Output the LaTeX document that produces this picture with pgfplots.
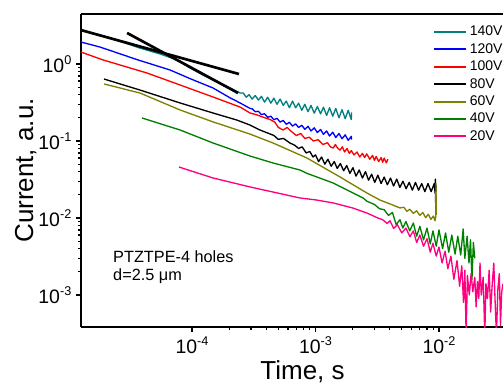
\documentclass[border=0pt]{standalone}
\usepackage{pgfplots}
\pgfplotsset{compat=1.18}
\usepackage{fontspec}
\setmainfont{Liberation Sans}
\definecolor{cteal}{RGB}{0,128,128}
\definecolor{cblue}{RGB}{0,0,255}
\definecolor{colive}{RGB}{128,128,0}
\definecolor{cgreen}{RGB}{0,128,0}
\definecolor{cpink}{RGB}{255,0,128}
\newcommand{\sups}[1]{\raisebox{0.42em}{\fontsize{9.5}{10}\selectfont #1}}
\begin{document}
\begin{tikzpicture}[x=0.75pt,y=0.75pt]
\path[use as bounding box] (0,0) rectangle (503,386);
\begin{axis}[
  at={(60.75pt,44.25pt)}, anchor=south west,
  scale only axis, width=316.5pt, height=234.75pt,
  xmode=log, ymode=log,
  xmin=1.262e-5, xmax=3.30e-2, ymin=3.84e-4, ymax=4.46,
  axis x line*=bottom, axis y line*=left,
  axis line style={line width=1.5pt,-},
  tick align=outside,
  major tick length=3.75pt, minor tick length=2.25pt,
  every tick/.style={black, line width=0.9pt},
  xtick={1e-4,1e-3,1e-2}, ytick={1e-3,1e-2,1e-1,1},
  xticklabels={10\sups{-4},10\sups{-3},10\sups{-2}},
  yticklabels={10\sups{-3},10\sups{-2},10\sups{-1},10\sups{0}},
  ticklabel style={font=\fontsize{14.6}{15}\selectfont},
  xlabel={Time, s}, ylabel={Current, a.u.},
  label style={font=\fontsize{19.5}{20}\selectfont},
  xlabel style={at={(axis description cs:0.525,-0.1693)}, anchor=base},
  ylabel style={at={(axis description cs:-0.1137,0.5)}, anchor=base},
  legend style={draw=none, fill=none, at={(axis description cs:0.834,0.970)}, anchor=north west,
    font=\fontsize{10.5}{11}\selectfont, inner sep=0pt, row sep=0.4pt, column sep=1pt,
    nodes={inner ysep=1.9pt, inner xsep=1pt}},
  legend cell align=left,
  legend image code/.code={\draw[#1, line width=1.5pt] (0pt,0pt) -- (24pt,0pt);},
  every axis plot/.append style={line width=1pt, line join=round},
  clip=true,
]
\addplot[cteal] table {
1.26e-5 2.76
2.17e-5 2.18
3.79e-5 1.61
5.51e-5 1.35
7.57e-5 1.13
9.64e-5 0.887
1.27e-4 0.698
1.59e-4 0.584
2.03e-4 0.49
2.45e-4 0.42
2.6e-4 0.42
2.75e-4 0.37
2.9e-4 0.40
3.07e-4 0.35
3.25e-4 0.39
3.45e-4 0.34
3.65e-4 0.38
3.87e-4 0.32
4.1e-4 0.37
4.35e-4 0.31
4.6e-4 0.36
4.88e-4 0.30
5.17e-4 0.35
5.48e-4 0.29
5.8e-4 0.33
6.15e-4 0.27
6.52e-4 0.33
6.9e-4 0.27
7.3e-4 0.31
7.75e-4 0.25
8.2e-4 0.30
8.7e-4 0.24
9.2e-4 0.29
9.77e-4 0.23
1.035e-3 0.28
1.1e-3 0.225
1.16e-3 0.275
1.23e-3 0.215
1.3e-3 0.27
1.38e-3 0.21
1.46e-3 0.265
1.55e-3 0.20
1.64e-3 0.255
1.74e-3 0.195
1.84e-3 0.25
1.95e-3 0.19
1.96e-3 0.235
};
\addlegendentry{140V}
\addplot[cblue] table {
1.26e-5 1.93
1.80e-5 1.66
3.65e-5 1.13
6.64e-5 0.836
9.64e-5 0.646
1.48e-4 0.488
2.0e-4 0.369
2.45e-4 0.312
2.95e-4 0.265
3.07e-4 0.262
3.25e-4 0.240
3.45e-4 0.243
3.65e-4 0.220
3.87e-4 0.226
4.1e-4 0.203
4.35e-4 0.210
4.6e-4 0.189
4.88e-4 0.197
5.17e-4 0.176
5.48e-4 0.185
5.8e-4 0.165
6.15e-4 0.175
6.52e-4 0.156
6.9e-4 0.167
7.3e-4 0.150
7.75e-4 0.160
8.2e-4 0.142
8.7e-4 0.155
9.2e-4 0.135
9.77e-4 0.148
1.035e-3 0.129
1.1e-3 0.141
1.16e-3 0.122
1.23e-3 0.135
1.3e-3 0.116
1.38e-3 0.130
1.46e-3 0.111
1.55e-3 0.125
1.64e-3 0.107
1.74e-3 0.120
1.84e-3 0.102
1.95e-3 0.115
1.96e-3 0.104
};
\addlegendentry{120V}
\addplot[red] table {
1.26e-5 1.43
1.90e-5 1.13
4.32e-5 0.764
8.0e-5 0.534
1.48e-4 0.373
2.45e-4 0.276
2.95e-4 0.231
3.36e-4 0.218
3.9e-4 0.20
4.3e-4 0.19
4.7e-4 0.175
5.0e-4 0.15
5.46e-4 0.139
5.9e-4 0.150
6.3e-4 0.135
7.0e-4 0.118
7.6e-4 0.125
8.2e-4 0.108
8.9e-4 0.112
9.6e-4 0.100
1.05e-3 0.104
1.15e-3 0.090
1.25e-3 0.095
1.32e-3 0.084
1.39e-3 0.081
1.45e-3 0.090
1.5e-3 0.082
1.58e-3 0.076
1.65e-3 0.084
1.72e-3 0.072
1.8e-3 0.080
1.88e-3 0.069
1.95e-3 0.075
2.05e-3 0.066
2.17e-3 0.072
2.28e-3 0.062
2.4e-3 0.069
2.5e-3 0.061
2.6e-3 0.068
2.75e-3 0.058
2.9e-3 0.065
3.0e-3 0.056
3.1e-3 0.063
3.25e-3 0.054
3.4e-3 0.061
3.5e-3 0.053
3.6e-3 0.060
3.75e-3 0.052
3.86e-3 0.058
};
\addlegendentry{100V}
\addplot[black] table {
1.94e-5 0.638
3.79e-5 0.459
8.0e-5 0.312
1.48e-4 0.231
2.31e-4 0.187
2.95e-4 0.161
3.55e-4 0.139
4.2e-4 0.125
4.6e-4 0.118
5.0e-4 0.105
5.5e-4 0.108
6.22e-4 0.094
6.8e-4 0.088
7.3e-4 0.080
7.8e-4 0.084
8.4e-4 0.070
9.0e-4 0.073
9.55e-4 0.062
1.00e-3 0.066
1.06e-3 0.054
1.12e-3 0.062
1.19e-3 0.050
1.26e-3 0.058
1.34e-3 0.047
1.42e-3 0.054
1.50e-3 0.044
1.59e-3 0.051
1.69e-3 0.041
1.79e-3 0.048
1.90e-3 0.038
2.01e-3 0.045
2.13e-3 0.035
2.26e-3 0.042
2.40e-3 0.033
2.54e-3 0.040
2.69e-3 0.031
2.85e-3 0.037
3.02e-3 0.029
3.20e-3 0.036
3.40e-3 0.028
3.60e-3 0.034
3.82e-3 0.027
4.05e-3 0.033
4.29e-3 0.026
4.55e-3 0.032
4.82e-3 0.025
5.11e-3 0.030
5.42e-3 0.024
5.74e-3 0.029
6.09e-3 0.023
6.45e-3 0.029
6.84e-3 0.023
7.25e-3 0.028
7.69e-3 0.022
8.15e-3 0.028
8.64e-3 0.022
9.16e-3 0.028
9.3e-3 0.021
9.35e-3 0.032
9.4e-3 0.016
9.45e-3 0.027
};
\addlegendentry{80V}
\addplot[colive] table {
1.94e-5 0.550
3.79e-5 0.420
8.0e-5 0.253
1.48e-4 0.177
2.95e-4 0.123
4.53e-4 0.0942
8.53e-4 0.0601
1.58e-3 0.0341
2.61e-3 0.0211
3.33e-3 0.0171
4.2e-3 0.0148
4.83e-3 0.0135
5.2e-3 0.0138
5.5e-3 0.0122
5.8e-3 0.0130
6.2e-3 0.0115
6.6e-3 0.0124
7.0e-3 0.0108
7.4e-3 0.0118
7.8e-3 0.0101
8.2e-3 0.0112
8.6e-3 0.0096
9.0e-3 0.0106
9.29e-3 0.0092
9.4e-3 0.0102
9.46e-3 0.028
9.5e-3 0.011
};
\addlegendentry{60V}
\addplot[cgreen] table {
3.94e-5 0.199
8.0e-5 0.139
1.48e-4 0.0942
2.95e-4 0.0638
4.53e-4 0.0518
7.49e-4 0.042
8.53e-4 0.038
1.39e-3 0.0285
2.43e-3 0.0182
2.61e-3 0.0165
3.0e-3 0.0150
3.3e-3 0.0132
3.6e-3 0.0128
3.9e-3 0.0108
4.2e-3 0.0118
4.5e-3 0.0082
4.83e-3 0.0095
5.1e-3 0.0074
5.4e-3 0.0090
5.8e-3 0.0068
6.2e-3 0.0086
6.6e-3 0.0058
7.0e-3 0.0078
7.5e-3 0.0052
8.0e-3 0.0074
8.5e-3 0.0046
8.94e-3 0.0068
9.5e-3 0.0043
1.0e-2 0.0070
1.07e-2 0.0040
1.13e-2 0.0064
1.2e-2 0.0036
1.27e-2 0.0060
1.35e-2 0.0034
1.42e-2 0.0058
1.5e-2 0.0033
1.57e-2 0.0072
1.62e-2 0.0030
1.69e-2 0.0058
1.75e-2 0.0026
1.8e-2 0.0052
1.85e-2 0.0016
1.9e-2 0.0048
1.95e-2 0.0030
};
\addlegendentry{40V}
\addplot[cpink] table {
7.85e-5 0.0459
1.48e-4 0.0331
2.95e-4 0.0253
7.49e-4 0.0182
1.0e-3 0.0172
1.39e-3 0.0157
2.0e-3 0.0135
2.61e-3 0.0116
3.2e-3 0.0100
3.5e-3 0.0095
3.8e-3 0.0085
4.01e-3 0.0092
4.3e-3 0.0073
4.6e-3 0.0082
5.0e-3 0.0064
5.4e-3 0.0074
5.82e-3 0.0057
6.2e-3 0.0068
6.6e-3 0.0048
7.0e-3 0.0060
7.5e-3 0.0043
8.0e-3 0.0054
8.5e-3 0.0036
8.94e-3 0.0047
9.5e-3 0.0032
1.0e-2 0.0042
1.06e-2 0.0026
1.12e-2 0.0037
1.18e-2 0.0022
1.25e-2 0.0032
1.32e-2 0.0016
1.4e-2 0.0028
1.47e-2 0.0013
1.53e-2 0.0024
1.58e-2 0.0008
1.62e-2 0.0021
1.66e-2 0.0003
1.7e-2 0.0018
1.76e-2 0.0010
1.82e-2 0.0019
1.88e-2 0.0011
1.95e-2 0.0017
2.0e-2 0.0007
2.05e-2 0.0015
2.1e-2 0.0009
2.15e-2 0.0026
2.2e-2 0.0010
2.28e-2 0.0017
2.35e-2 0.0003
2.4e-2 0.0014
2.47e-2 0.0009
2.55e-2 0.0021
2.62e-2 0.0006
2.7e-2 0.0014
2.78e-2 0.0026
2.85e-2 0.0008
2.92e-2 0.0003
3.0e-2 0.0012
3.08e-2 0.0019
3.15e-2 0.0004
3.22e-2 0.0011
3.3e-2 0.0014
};
\addlegendentry{20V}
\addplot[black, line width=2pt, forget plot] table {
1.26e-5 2.76
2.40e-4 0.741
};
\addplot[black, line width=2pt, forget plot] table {
2.98e-5 2.53
2.36e-4 0.420
};
\draw[line width=1.5pt] (rel axis cs:0,1) -- (rel axis cs:1,1);
\node[anchor=base west, font=\fontsize{12.2}{13}\selectfont, inner sep=0pt] at (rel axis cs:0.0758,0.2054) {PTZTPE-4 holes};
\node[anchor=base west, font=\fontsize{12.2}{13}\selectfont, inner sep=0pt] at (rel axis cs:0.0758,0.147) {d=2.5 μm};
\end{axis}
\end{tikzpicture}
\end{document}
